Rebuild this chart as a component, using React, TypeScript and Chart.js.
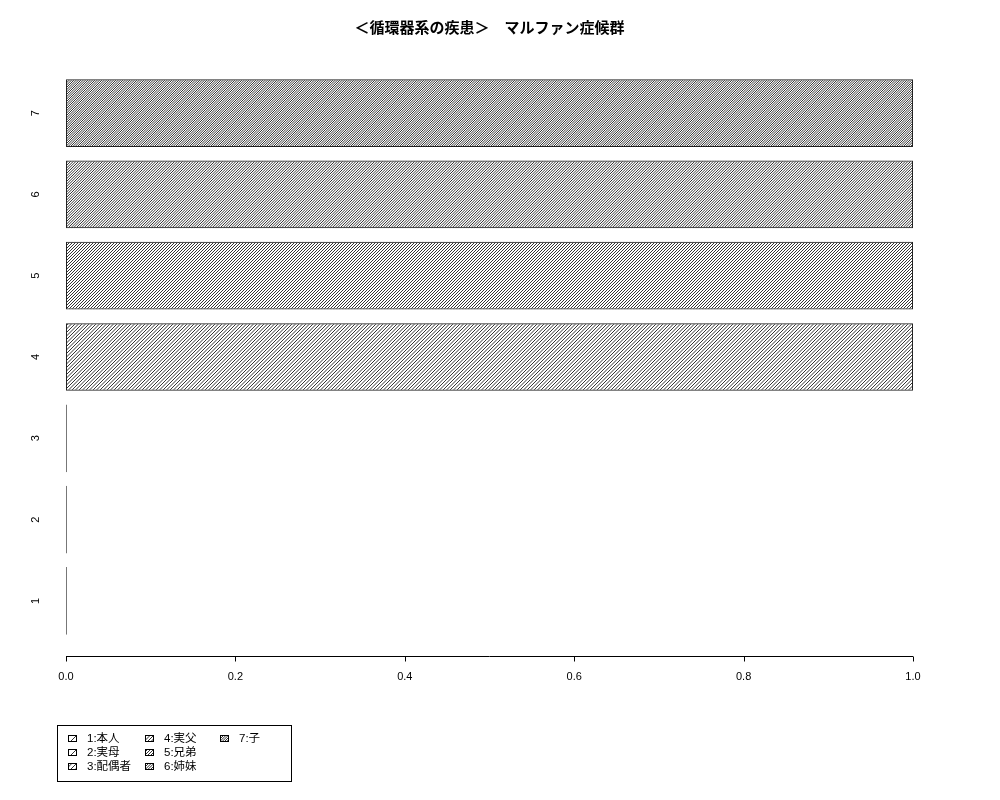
import React, { useEffect, useRef } from 'react';
import { Chart, registerables } from 'chart.js';

Chart.register(...registerables);

const title = '＜循環器系の疾患＞　マルファン症候群';
const categories = ['1:本人', '2:実母', '3:配偶者', '4:実父', '5:兄弟', '6:姉妹', '7:子'];
const axisLabels = ['1', '2', '3', '4', '5', '6', '7'];
const values = [0, 0, 0, 1, 1, 1, 1];
const xTicks = [0, 0.2, 0.4, 0.6, 0.8, 1.0];

// horizontal gap between hatch lines for each bar (R density look)
const hatchGap = [14, 7, 14 / 3, 3.5, 3, 8 / 3, 7 / 3];

const FONT = "'Liberation Sans', 'Noto Sans CJK JP', sans-serif";

function makeHatch(gap: number): CanvasPattern | string {
  // pick a repeat count so the tile is a whole number of pixels
  let n = 1;
  while (n < 12 && Math.abs(gap * n - Math.round(gap * n)) > 0.01) n++;
  const size = Math.max(2, Math.round(gap * n));
  const g = size / n;
  const c = document.createElement('canvas');
  c.width = size;
  c.height = size;
  const ctx = c.getContext('2d');
  if (!ctx) return '#888';
  ctx.strokeStyle = '#000';
  ctx.lineWidth = 0.8;
  for (let k = 0; k <= 2 * n; k++) {
    const s = k * g;
    ctx.beginPath();
    ctx.moveTo(s, 0);
    ctx.lineTo(s - size, size);
    ctx.stroke();
  }
  const p = ctx.createPattern(c, 'repeat');
  return p || '#888';
}

const App: React.FC = () => {
  const chartRef = useRef<HTMLCanvasElement>(null);
  const chartInstance = useRef<Chart | null>(null);

  useEffect(() => {
    if (!chartRef.current) return;
    const ctx = chartRef.current.getContext('2d');
    if (!ctx) return;
    if (chartInstance.current) chartInstance.current.destroy();

    const patterns = hatchGap.map(makeHatch);

    const extras = {
      id: 'rExtras',
      afterDraw(chart: Chart) {
        const c = chart.ctx;
        const xs = chart.scales.x;
        const ys = chart.scales.y;
        const area = chart.chartArea;
        c.save();
        // x axis line + ticks, offset below the plot like R
        const ya = Math.round(area.bottom + 14) + 0.5;
        c.strokeStyle = '#000';
        c.lineWidth = 1;
        c.beginPath();
        c.moveTo(xs.getPixelForValue(xTicks[0]), ya);
        c.lineTo(xs.getPixelForValue(xTicks[xTicks.length - 1]), ya);
        xTicks.forEach((t) => {
          const px = Math.round(xs.getPixelForValue(t)) + 0.5;
          c.moveTo(px, ya);
          c.lineTo(px, ya + 5);
        });
        c.stroke();

        // rotated category labels on the left
        c.fillStyle = '#000';
        c.font = `11px ${FONT}`;
        c.textAlign = 'center';
        c.textBaseline = 'middle';
        axisLabels.forEach((lab, i) => {
          const py = ys.getPixelForValue(i);
          c.save();
          c.translate(36, py);
          c.rotate(-Math.PI / 2);
          c.fillText(lab, 0, 0);
          c.restore();
        });

        // legend box
        c.strokeRect(57.5, 725.5, 234, 56);
        const colX = [68, 145, 220];
        const rowY = [739, 753, 767];
        c.font = `11.5px ${FONT}`;
        c.textAlign = 'left';
        categories.forEach((name, i) => {
          const col = Math.floor(i / 3);
          const row = i % 3;
          const bx = colX[col];
          const by = rowY[row];
          c.fillStyle = patterns[i];
          c.fillRect(bx, by - 4, 9, 7);
          c.strokeStyle = '#000';
          c.strokeRect(bx + 0.5, by - 3.5, 8, 6);
          c.fillStyle = '#000';
          c.fillText(name, bx + 19, by);
        });
        c.restore();
      },
    };

    chartInstance.current = new Chart(ctx, {
      type: 'bar',
      data: {
        labels: axisLabels,
        datasets: [
          {
            label: title,
            data: values,
            backgroundColor: patterns,
            borderColor: (ctx2: any) => (values[ctx2.dataIndex] === 0 ? '#777' : '#222'),
            borderWidth: 1,
            borderSkipped: false,
            barPercentage: 1 / 1.2,
            categoryPercentage: 1,
            minBarLength: 1,
          },
        ],
      },
      options: {
        indexAxis: 'y',
        animation: false,
        responsive: true,
        maintainAspectRatio: false,
        layout: { padding: { left: 66, right: 87, top: 0, bottom: 0 } },
        plugins: {
          legend: { display: false },
          tooltip: { enabled: false },
          title: {
            display: true,
            text: title,
            fullSize: false,
            color: '#000',
            font: { family: FONT, size: 15, weight: 'bold', lineHeight: 1.2 },
            padding: { top: 20, bottom: 34.5 },
          },
        },
        scales: {
          x: {
            min: 0,
            max: 1,
            grid: { display: false, drawTicks: false },
            border: { display: false },
            ticks: {
              stepSize: 0.2,
              maxRotation: 0,
              padding: 29,
              color: '#000',
              font: { family: FONT, size: 11 },
              callback: (v) => Number(v).toFixed(1),
            },
            afterFit: (s) => {
              s.height = 158.5;
            },
          },
          y: {
            display: false,
            reverse: true,
            offset: true,
          },
        },
      },
      plugins: [extras],
    });

    return () => {
      if (chartInstance.current) {
        chartInstance.current.destroy();
        chartInstance.current = null;
      }
    };
  }, []);

  return (
    <div style={{ position: 'fixed', left: 0, top: 0, width: 1000, height: 800, background: '#fff' }}>
      <canvas ref={chartRef} />
    </div>
  );
};

export default App;
